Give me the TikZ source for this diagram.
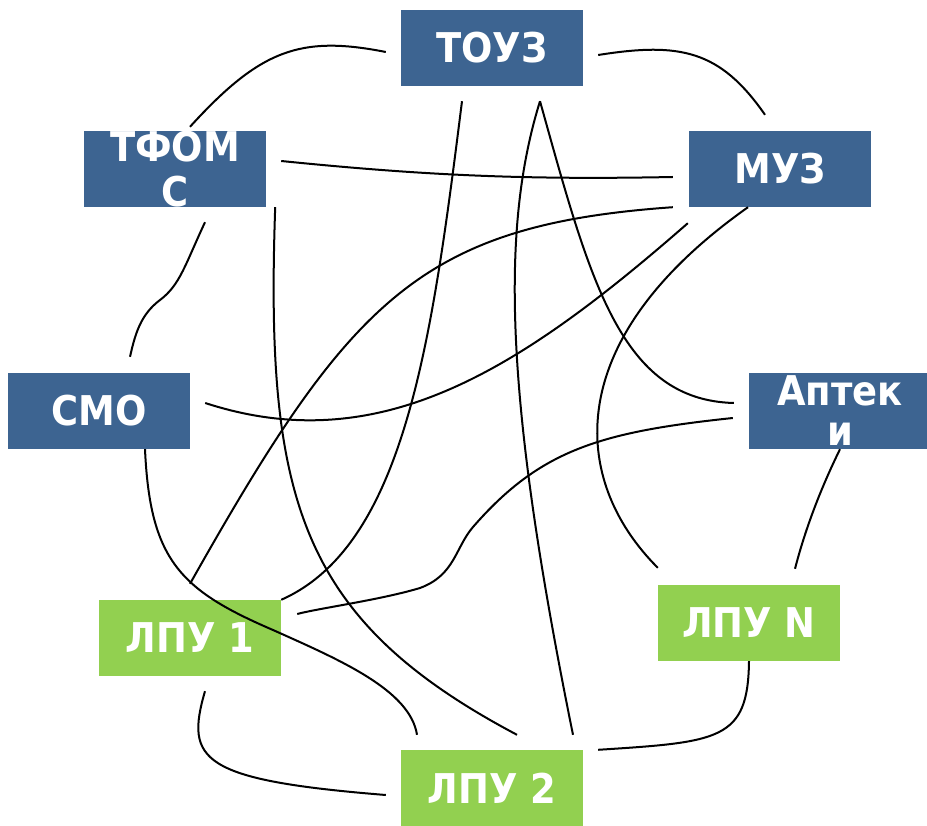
\documentclass[tikz,border=0pt]{standalone}
\usepackage{fontspec}
\setmainfont{DejaVu Sans}
\newfontfamily\orgfont{DejaVu Sans}[FakeStretch=0.9]
\definecolor{orgblue}{RGB}{61,100,145}
\definecolor{lpugreen}{RGB}{146,208,80}
\tikzset{
  boxtext/.style={text=white, align=center, inner sep=0pt,
    font=\orgfont\bfseries\fontsize{41}{45}\selectfont},
  org/.style={boxtext, fill=orgblue, minimum width=182pt, minimum height=76pt},
  lpu/.style={org, fill=lpugreen},
  link/.style={line width=2pt}
}

\begin{document}
\begin{tikzpicture}[x=1pt, y=-1pt]
  \useasboundingbox (0,0) rectangle (927,826);
  % boxes
  \node[org] (touz) at (492,48) {ТОУЗ};
  \node[org, label={[boxtext]center:{ТФОМ\\С}}] (tfoms) at (175,169) {};
  \node[org] (muz) at (780,169) {МУЗ};
  \node[org] (smo) at (99,411) {СМО};
  \node[org, label={[boxtext]center:{Аптек\\[-5pt]и}}] (apt) at (840,411) {};
  \node[lpu] (lpu1) at (190,638) {ЛПУ 1};
  \node[lpu] (lpuN) at (749,623) {ЛПУ N};
  \node[lpu] (lpu2) at (492,788) {ЛПУ 2};
  % ends of the links
  \coordinate (touz-w) at ([shift={(-15,4)}]touz.west);
  \coordinate (touz-e) at ([shift={(15,7)}]touz.east);
  \coordinate (touz-s1) at ([shift={(-30,15)}]touz.south);
  \coordinate (touz-s2) at ([shift={(48,15)}]touz.south);
  \coordinate (tfoms-n) at ([shift={(15,-4)}]tfoms.north);
  \coordinate (tfoms-e) at ([shift={(15,-8)}]tfoms.east);
  \coordinate (tfoms-s1) at ([shift={(30,15)}]tfoms.south);
  \coordinate (tfoms-s2) at ([shift={(9,0)}]tfoms.south east);
  \coordinate (muz-n) at ([shift={(-15,-16)}]muz.north);
  \coordinate (muz-w1) at ([shift={(-16,8)}]muz.west);
  \coordinate (muz-w2) at ([shift={(-16,0)}]muz.south west);
  \coordinate (muz-w3) at ([shift={(-1,16)}]muz.south west);
  \coordinate (muz-s) at ([shift={(-32,0)}]muz.south);
  \coordinate (smo-n) at ([shift={(31,-16)}]smo.north);
  \coordinate (smo-e) at ([shift={(15,-8)}]smo.east);
  \coordinate (smo-s) at ([shift={(46,0)}]smo.south);
  \coordinate (apt-w1) at ([shift={(-15,-8)}]apt.west);
  \coordinate (apt-w2) at ([shift={(-16,7)}]apt.west);
  \coordinate (apt-s) at (apt.south);
  \coordinate (lpu1-n) at ([shift={(0,-16)}]lpu1.north);
  \coordinate (lpu1-ne) at (lpu1.north east);
  \coordinate (lpu1-e) at ([shift={(16,-24)}]lpu1.east);
  \coordinate (lpu1-s) at ([shift={(15,15)}]lpu1.south);
  \coordinate (lpuN-nw) at ([shift={(0,-17)}]lpuN.north west);
  \coordinate (lpuN-ne) at ([shift={(46,-16)}]lpuN.north);
  \coordinate (lpuN-s) at (lpuN.south);
  \coordinate (lpu2-n1) at ([shift={(-75,-15)}]lpu2.north);
  \coordinate (lpu2-n2) at ([shift={(25,-15)}]lpu2.north);
  \coordinate (lpu2-n3) at ([shift={(81,-15)}]lpu2.north);
  \coordinate (lpu2-w) at ([shift={(-15,7)}]lpu2.west);
  \coordinate (lpu2-ne) at ([shift={(15,0)}]lpu2.north east);
  % links
  \draw[link] (touz-w) .. controls (300,35) and (260,50) .. (tfoms-n);
  \draw[link] (touz-e) .. controls (680,42) and (720,50) .. (muz-n);
  \draw[link] (tfoms-e) .. controls (420,175) and (520,180) .. (muz-w1);
  \draw[link] (tfoms-s1) .. controls (185,265) and (180,285) .. (160,300)
    .. controls (140,315) and (135,335) .. (smo-n);
  \draw[link] (touz-s1) .. controls (432,340) and (405,545) .. (lpu1-ne);
  \draw[link] (touz-s2) .. controls (590,280) and (620,400) .. (apt-w1);
  \draw[link] (touz-s2) .. controls (500,230) and (505,400) .. (lpu2-n3);
  \draw[link] (tfoms-s2) .. controls (265,500) and (300,620) .. (lpu2-n2);
  \draw[link] (muz-w2) .. controls (420,225) and (350,300) .. (lpu1-n);
  \draw[link] (muz-w3) .. controls (520,370) and (380,460) .. (smo-e);
  \draw[link] (muz-s) .. controls (560,340) and (570,480) .. (lpuN-nw);
  \draw[link] (apt-w2) .. controls (600,432) and (540,450) .. (473,527)
    .. controls (455,548) and (455,575) .. (420,588)
    .. controls (380,600) and (320,608) .. (lpu1-e);
  \draw[link] (apt-s) .. controls (820,490) and (805,530) .. (lpuN-ne);
  \draw[link] (smo-s) .. controls (150,560) and (180,590) .. (273,630)
    .. controls (340,660) and (410,690) .. (lpu2-n1);
  \draw[link] (lpu1-s) .. controls (185,760) and (200,780) .. (lpu2-w);
  \draw[link] (lpuN-s) .. controls (748,740) and (720,742) .. (lpu2-ne);
\end{tikzpicture}
\end{document}
